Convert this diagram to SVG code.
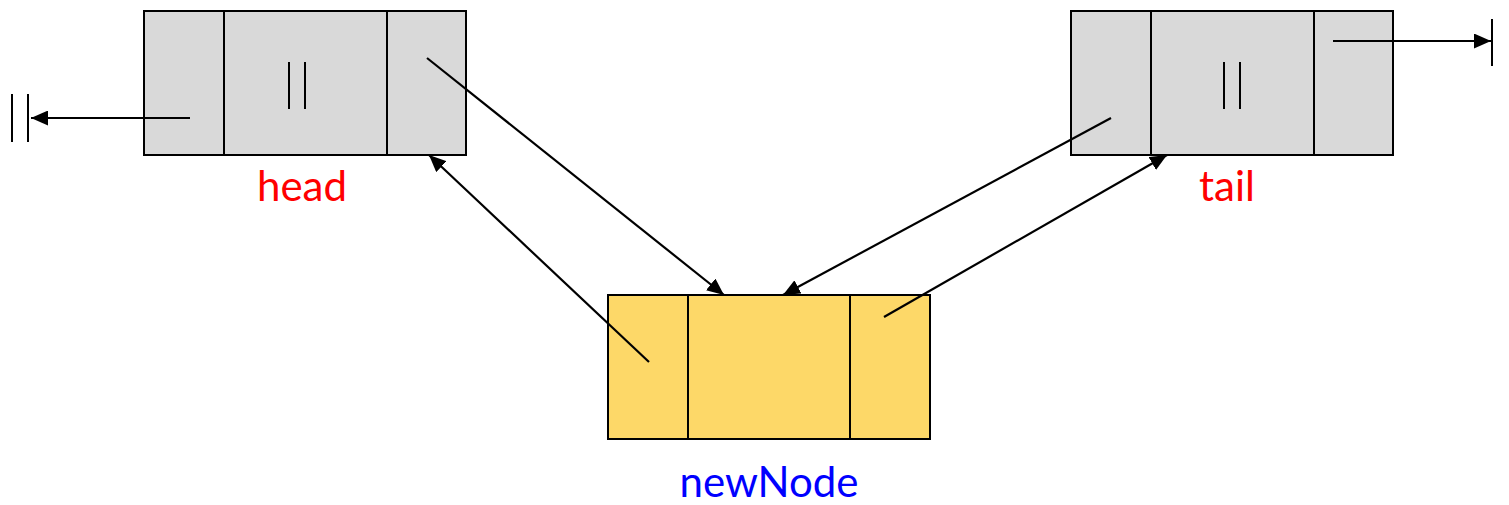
<svg xmlns="http://www.w3.org/2000/svg" width="1509" height="505" viewBox="0 0 1509 505">
  <style>
    .cell { stroke: #000; stroke-width: 2; }
    .old { fill: #D9D9D9; }
    .new { fill: #FDD868; }
    .div { stroke: #000; stroke-width: 2; fill: none; }
    .wire { stroke: #000; stroke-width: 2.2; fill: none; }
    .label { font-family: Lato, "Liberation Sans", sans-serif; font-size: 42px; text-anchor: middle; }
  </style>
  <defs>
    <marker id="arrow" viewBox="0 0 17 15" refX="17" refY="7.5" markerWidth="17" markerHeight="15" markerUnits="userSpaceOnUse" orient="auto">
      <path d="M0,0 L17,7.5 L0,15 Z" fill="#000"/>
    </marker>
  </defs>

  <!-- head node: prev | data | next -->
  <g id="head">
    <rect class="cell old" x="144" y="11" width="322" height="144"/>
    <line class="div" x1="224" y1="11" x2="224" y2="155"/>
    <line class="div" x1="387" y1="11" x2="387" y2="155"/>
    <line class="div" x1="289" y1="62" x2="289" y2="109"/>
    <line class="div" x1="305" y1="62" x2="305" y2="109"/>
    <text class="label" x="302" y="201" fill="#FF0000">head</text>
  </g>

  <!-- tail node -->
  <g id="tail">
    <rect class="cell old" x="1071" y="11" width="322" height="144"/>
    <line class="div" x1="1151" y1="11" x2="1151" y2="155"/>
    <line class="div" x1="1314" y1="11" x2="1314" y2="155"/>
    <line class="div" x1="1224" y1="62" x2="1224" y2="109"/>
    <line class="div" x1="1240" y1="62" x2="1240" y2="109"/>
    <text class="label" x="1227" y="201" fill="#FF0000">tail</text>
  </g>

  <!-- node being inserted -->
  <g id="newNode">
    <rect class="cell new" x="608" y="295" width="322" height="144"/>
    <line class="div" x1="688" y1="295" x2="688" y2="439"/>
    <line class="div" x1="850" y1="295" x2="850" y2="439"/>
    <text class="label" x="769" y="497" font-size="43" fill="#0000FF">newNode</text>
  </g>

  <!-- null terminators -->
  <g id="null-left">
    <line class="div" x1="12" y1="94" x2="12" y2="142"/>
    <line class="div" x1="28" y1="94" x2="28" y2="142"/>
  </g>
  <g id="null-right">
    <line class="div" x1="1492" y1="19" x2="1492" y2="66"/>
  </g>

  <!-- pointers -->
  <g id="connectors">
    <line class="wire" x1="190" y1="118" x2="31" y2="118" marker-end="url(#arrow)"/>
    <line class="wire" x1="1333" y1="41" x2="1491" y2="41" marker-end="url(#arrow)"/>
    <line class="wire" x1="427" y1="58" x2="724" y2="295" marker-end="url(#arrow)"/>
    <line class="wire" x1="649" y1="362" x2="429" y2="155" marker-end="url(#arrow)"/>
    <line class="wire" x1="1111" y1="118" x2="783" y2="295" marker-end="url(#arrow)"/>
    <line class="wire" x1="884" y1="317" x2="1167" y2="155" marker-end="url(#arrow)"/>
  </g>
</svg>
